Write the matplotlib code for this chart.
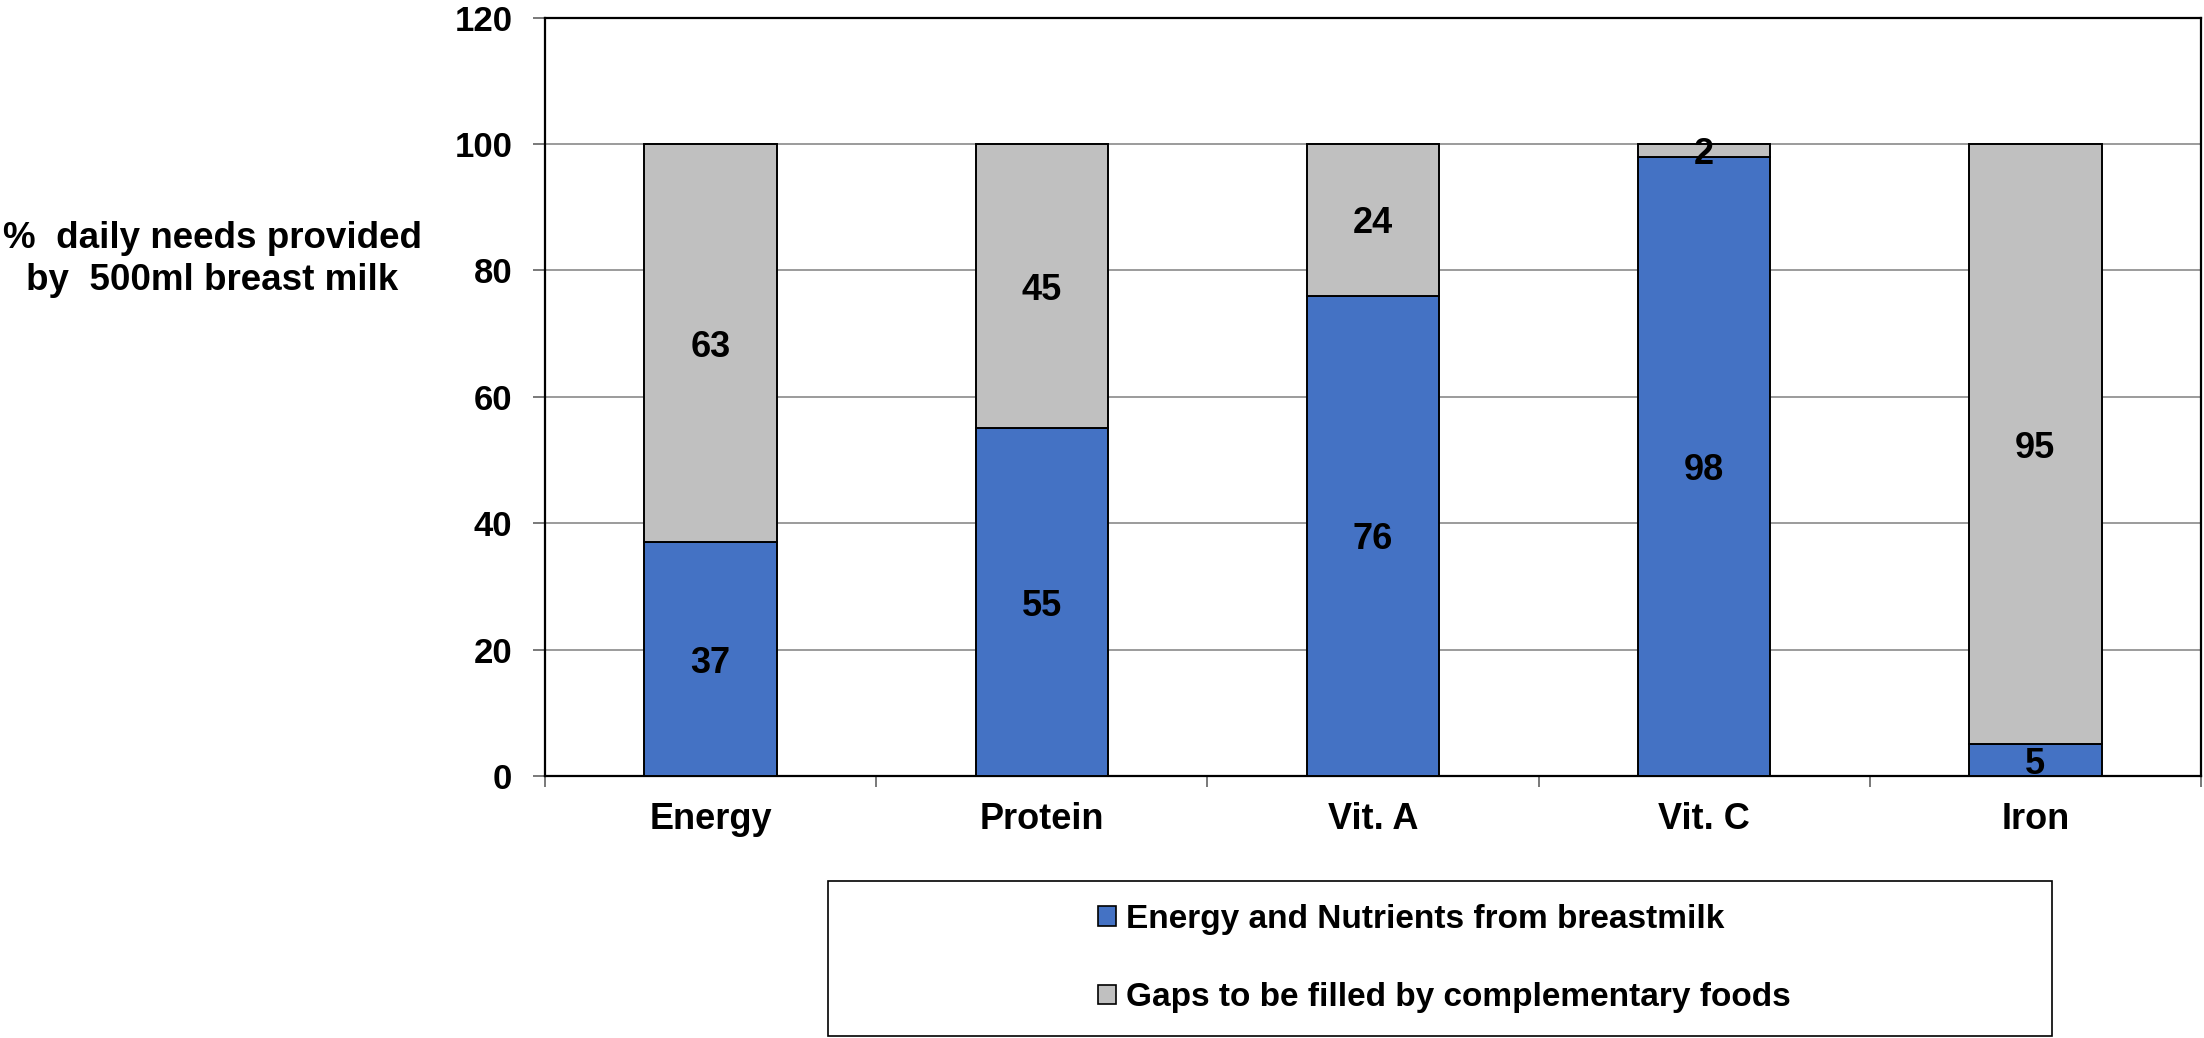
import matplotlib
matplotlib.use("Agg")
import matplotlib.pyplot as plt
from matplotlib.patches import Patch, Rectangle
from matplotlib.ticker import FixedLocator
import numpy as np

nutrients = ["Energy", "Protein", "Vit. A", "Vit. C", "Iron"]
from_breastmilk = [37, 55, 76, 98, 5]
gaps = [63, 45, 24, 2, 95]
yticks = [0, 20, 40, 60, 80, 100, 120]

blue = "#4472C4"
grey = "#C0C0C0"
plt.rcParams["font.family"] = ["Liberation Sans", "DejaVu Sans"]
plt.rcParams["font.weight"] = "bold"

fig = plt.figure(figsize=(22.04, 10.38), dpi=100)
ax = fig.add_axes([0.2473, 0.2524, 0.7513, 0.7307])

x = np.arange(len(nutrients))
b1 = ax.bar(x, from_breastmilk, width=0.4, color=blue, edgecolor="black", linewidth=1.4, zorder=3)
b2 = ax.bar(x, gaps, width=0.4, bottom=from_breastmilk, color=grey, edgecolor="black", linewidth=1.4, zorder=3)

# value labels in the middle of each segment
for i in range(len(nutrients)):
    ax.text(x[i], from_breastmilk[i] / 2, str(from_breastmilk[i]), ha="center", va="center_baseline",
            fontsize=26, fontweight="bold", zorder=4)
    ax.text(x[i], from_breastmilk[i] + gaps[i] / 2, str(gaps[i]), ha="center", va="center_baseline",
            fontsize=26, fontweight="bold", zorder=4)

ax.set_xlim(-0.5, len(nutrients) - 0.5)
ax.set_ylim(0, 120)
ax.set_yticks(yticks)
ax.set_yticklabels([str(v) for v in yticks], fontsize=25, fontweight="bold")
ax.yaxis.grid(True, color="#808080", linewidth=1.1, zorder=0)
ax.tick_params(axis="y", length=8.6, width=1.1, color="#555555", pad=15)

ax.set_xticks(x)
ax.set_xticklabels(nutrients, fontsize=26, fontweight="bold")
ax.tick_params(axis="x", which="major", length=0, pad=19)
ax.xaxis.set_minor_locator(FixedLocator(np.arange(-0.5, len(nutrients), 1.0)))
ax.tick_params(axis="x", which="minor", length=8, width=1.1, color="#555555")

for s in ax.spines.values():
    s.set_linewidth(1.6)
    s.set_color("black")

fig.text(0.0962, 0.750, "%  daily needs provided\nby  500ml breast milk", ha="center", va="center",
         fontsize=26.5, fontweight="bold", multialignment="center", linespacing=1.28)

# legend box
fig.patches.append(Rectangle((828 / 2204, 2 / 1038), (2052 - 828) / 2204, 155 / 1038,
                             transform=fig.transFigure, fill=False, edgecolor="black", linewidth=1.2))
handles = [Patch(facecolor=blue, edgecolor="black", linewidth=1.2),
           Patch(facecolor=grey, edgecolor="black", linewidth=1.2)]
fig.legend(handles, ["Energy and Nutrients from breastmilk", "Gaps to be filled by complementary foods"],
           loc="center", bbox_to_anchor=(0.6554, 0.0766), frameon=False,
           prop={"size": 24, "weight": "bold"}, handlelength=0.52, handleheight=0.52,
           handletextpad=0.3, labelspacing=1.42, borderpad=0)

fig.savefig("out.png", dpi=100)
